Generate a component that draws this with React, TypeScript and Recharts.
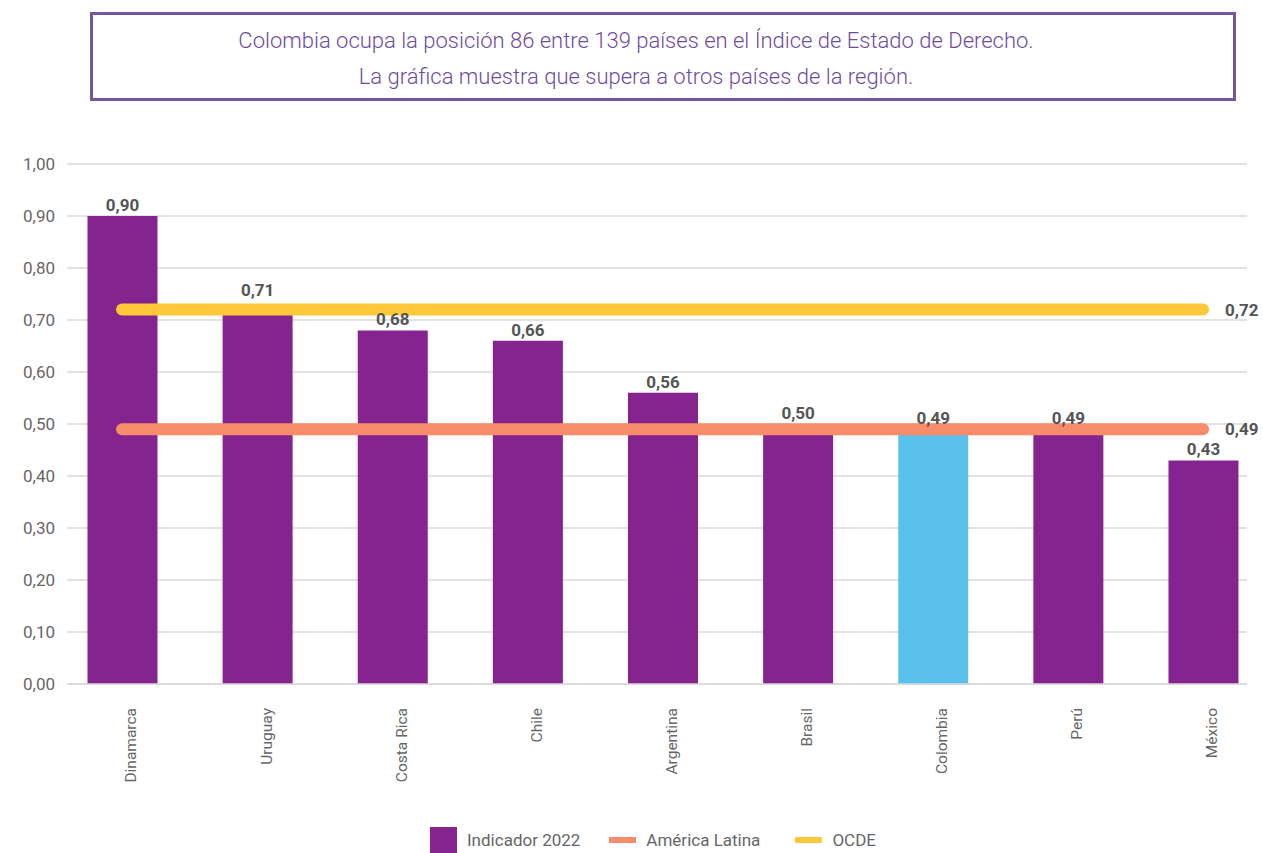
import { ComposedChart, Bar, Line, XAxis, YAxis, CartesianGrid, Cell, LabelList } from 'recharts';

const categories = ['Dinamarca', 'Uruguay', 'Costa Rica', 'Chile', 'Argentina', 'Brasil', 'Colombia', 'Perú', 'México'];
const indicador2022 = [0.9, 0.71, 0.68, 0.66, 0.56, 0.5, 0.49, 0.49, 0.43];
const americaLatina = [0.49, 0.49, 0.49, 0.49, 0.49, 0.49, 0.49, 0.49, 0.49];
const ocde = [0.72, 0.72, 0.72, 0.72, 0.72, 0.72, 0.72, 0.72, 0.72];
const yTicks = [0, 0.1, 0.2, 0.3, 0.4, 0.5, 0.6, 0.7, 0.8, 0.9, 1.0];

const PURPLE = '#85238f';
const HIGHLIGHT = '#5bc0eb';
const ORANGE = '#f78c6b';
const YELLOW = '#fdc93a';
const FONT = 'Roboto, sans-serif';

const data = categories.map((name, i) => ({
  name,
  indicador: indicador2022[i],
  latam: americaLatina[i],
  ocde: ocde[i],
}));

const fmt = (v: number) => v.toFixed(2).replace('.', ',');

function CategoryTick(props: any) {
  const { x, y, payload } = props;
  return (
    <g transform={`translate(${x + 9},${y + 16}) rotate(-90)`}>
      <text x={0} y={0} dy="0.35em" textAnchor="end" fill="#666" fontSize={15.5} fontFamily={FONT}>
        {payload.value}
      </text>
    </g>
  );
}

// bar value label; lifted above the OCDE line when it would sit on top of it
function BarLabel(props: any) {
  const { x, y, width, height, value, index } = props;
  const v = Number(value);
  const line = ocde[index];
  let ty = y - 5;
  if (line - v >= 0 && line - v < 0.03 && v > 0) {
    const lineY = y + height - (line * height) / v;
    ty = lineY - 14;
  }
  return (
    <text x={x + width / 2} y={ty} textAnchor="middle" fill="#555" fontSize={17} fontWeight={700} fontFamily={FONT}>
      {fmt(v)}
    </text>
  );
}

function EndLabel(props: any) {
  const { x, y, value, index } = props;
  if (index !== categories.length - 1) return null;
  return (
    <text x={x + 22} y={y} dy="0.35em" fill="#555" fontSize={17} fontWeight={700} fontFamily={FONT}>
      {fmt(value)}
    </text>
  );
}

export default function App() {
  return (
    <div style={{ position: 'absolute', left: 0, top: 0, width: 1263, height: 853, background: '#fff', fontFamily: FONT }}>
      <div
        style={{
          position: 'absolute',
          left: 90,
          top: 12,
          width: 1146,
          height: 89,
          boxSizing: 'border-box',
          border: '3px solid #7556a0',
          color: '#6d4c9f',
          fontSize: 22,
          fontWeight: 300,
          textAlign: 'center',
          lineHeight: '36px',
          paddingTop: 8,
          paddingRight: 54,
        }}
      >
        <div>Colombia ocupa la posición 86 entre 139 países en el Índice de Estado de Derecho.</div>
        <div>La gráfica muestra que supera a otros países de la región.</div>
      </div>

      <div style={{ position: 'absolute', left: 0, top: 0 }}>
        <ComposedChart
          width={1263}
          height={853}
          data={data}
          margin={{ top: 164, right: 16, bottom: 0, left: 0 }}
        >
          <CartesianGrid vertical={false} stroke="#d9d9d9" strokeWidth={1.5} />
          <XAxis
            dataKey="name"
            padding={{ left: -12.5, right: -23.6 }}
            axisLine={{ stroke: '#d9d9d9', strokeWidth: 1.5 }}
            tickLine={false}
            interval={0}
            tick={<CategoryTick />}
            height={169}
          />
          <YAxis
            width={67}
            domain={[0, 1]}
            ticks={yTicks}
            tickFormatter={fmt}
            axisLine={false}
            tickLine={false}
            tickSize={0}
            tickMargin={12}
            tick={{ fill: '#666', fontSize: 17, fontFamily: FONT }}
          />
          <Bar dataKey="indicador" barSize={70} isAnimationActive={false}>
            {data.map((d, i) => (
              <Cell key={`cell-${i}`} fill={d.name === 'Colombia' ? HIGHLIGHT : PURPLE} />
            ))}
            <LabelList dataKey="indicador" content={<BarLabel />} />
          </Bar>
          <Line
            dataKey="latam"
            stroke={ORANGE}
            strokeWidth={12}
            strokeLinecap="round"
            dot={false}
            activeDot={false}
            isAnimationActive={false}
          >
            <LabelList dataKey="latam" content={<EndLabel />} />
          </Line>
          <Line
            dataKey="ocde"
            stroke={YELLOW}
            strokeWidth={12}
            strokeLinecap="round"
            dot={false}
            activeDot={false}
            isAnimationActive={false}
          >
            <LabelList dataKey="ocde" content={<EndLabel />} />
          </Line>
        </ComposedChart>
      </div>

      <div
        style={{
          position: 'absolute',
          left: 430,
          top: 827,
          height: 26,
          display: 'flex',
          alignItems: 'center',
          color: '#666',
          fontSize: 17,
        }}
      >
        <span style={{ width: 27, height: 26, background: PURPLE, display: 'inline-block', marginRight: 10 }} />
        <span style={{ marginRight: 29 }}>Indicador 2022</span>
        <span style={{ width: 27, height: 6, background: ORANGE, display: 'inline-block', marginRight: 10 }} />
        <span style={{ marginRight: 35 }}>América Latina</span>
        <span style={{ width: 27, height: 6, background: YELLOW, display: 'inline-block', marginRight: 10 }} />
        <span>OCDE</span>
      </div>
    </div>
  );
}
